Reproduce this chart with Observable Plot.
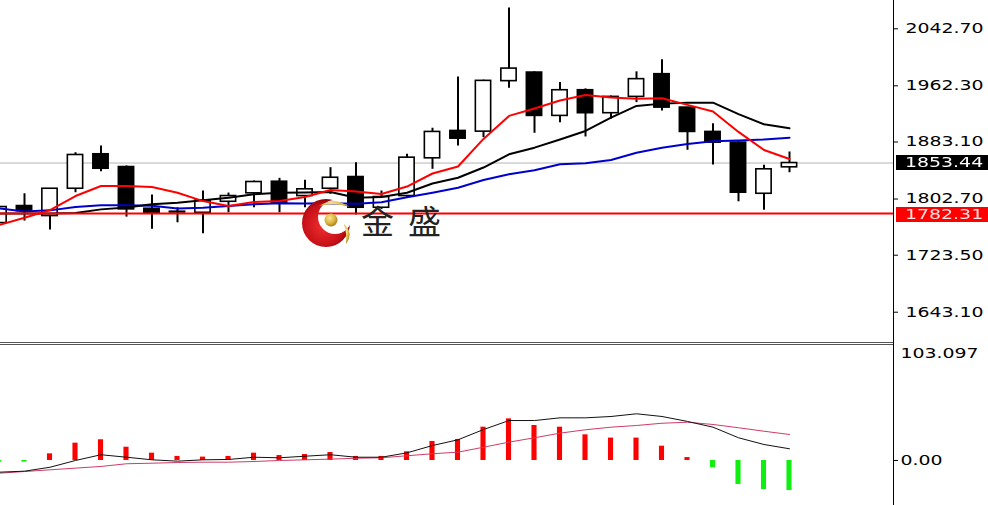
<!DOCTYPE html>
<html>
<head>
<meta charset="utf-8">
<script src="https://cdn.jsdelivr.net/npm/d3@7"></script>
<script src="https://cdn.jsdelivr.net/npm/@observablehq/plot@0.6"></script>
<style>
  html, body { margin: 0; padding: 0; background: #fff; }
  #wrap { position: relative; width: 988px; height: 505px; overflow: hidden; background: #fff; font-family: "DejaVu Sans", sans-serif; }
  #wrap svg { display: block; }
  .panel { position: absolute; left: 0; }
  .sep { position: absolute; left: 0; width: 893px; height: 1px; background: #555; }
  .tag { position: absolute; left: 896px; width: 92px; height: 15px; line-height: 15px; font-size: 13.5px; white-space: nowrap; overflow: hidden; }
  .tag span { display: inline-block; margin-left: 9px; transform: scaleX(1.4); transform-origin: left center; }
  #brand { position: absolute; left: 361px; top: 204px; font-family: "Noto Sans CJK SC", sans-serif; font-size: 33px; line-height: 33px; color: #222; letter-spacing: 14px; white-space: nowrap; }
  #logo { position: absolute; left: 300px; top: 195px; }
</style>
</head>
<body>
<div id="wrap"></div>
<script>
// ---- data ----
const bars = d3.range(32);
const open  = [1768.8, 1792.8, 1778.7, 1817.2, 1865.8, 1847.8, 1789.0, 1784.8, 1783.3, 1798.8, 1810.7, 1827.1, 1806.9, 1817.2, 1833.7, 1790.4, 1806.9, 1860.1, 1898.7, 1897.7, 1968.9, 1981.0, 1919.9, 1956.1, 1923.7, 1946.7, 1978.7, 1931.6, 1897.3, 1882.2, 1810.1, 1847.4];
const high  = [1792.8, 1810.1, 1817.5, 1868.0, 1877.5, 1849.3, 1808.3, 1790.4, 1814.0, 1811.1, 1828.1, 1831.9, 1829.1, 1846.9, 1853.9, 1814.0, 1865.8, 1902.5, 1974.9, 1970.3, 2071.9, 1982.0, 1966.9, 1958.0, 1948.1, 1982.0, 1998.9, 1931.6, 1909.0, 1883.1, 1850.2, 1869.0];
const low   = [1766.0, 1771.6, 1758.9, 1811.6, 1841.2, 1777.2, 1759.9, 1769.2, 1753.7, 1783.3, 1790.4, 1783.3, 1790.4, 1809.3, 1780.1, 1788.0, 1805.0, 1844.6, 1877.5, 1889.2, 1959.0, 1895.4, 1910.4, 1890.2, 1915.2, 1938.6, 1926.9, 1871.4, 1850.7, 1798.8, 1786.7, 1839.8];
const close = [1791.4, 1785.7, 1817.2, 1864.8, 1845.4, 1788.1, 1783.3, 1783.8, 1800.5, 1806.9, 1826.7, 1796.6, 1816.4, 1832.7, 1790.4, 1805.5, 1861.0, 1897.3, 1887.8, 1969.3, 1986.6, 1919.9, 1956.1, 1923.7, 1946.7, 1971.7, 1931.6, 1897.3, 1882.2, 1811.6, 1844.6, 1853.44];

const maRed   = [1765.9, 1776.3, 1787.1, 1806.9, 1821.0, 1821.0, 1819.6, 1811.6, 1799.8, 1792.8, 1798.4, 1799.8, 1805.5, 1815.4, 1813.2, 1809.7, 1820.3, 1838.7, 1848.5, 1887.4, 1919.9, 1930.4, 1941.5, 1949.5, 1945.7, 1943.9, 1944.8, 1935.4, 1926.2, 1897.3, 1871.8, 1859.1];
const maBlack = [1782.2, 1782.2, 1782.2, 1782.9, 1788.1, 1790.7, 1795.2, 1797.4, 1800.8, 1804.5, 1809.3, 1811.6, 1811.8, 1812.5, 1804.5, 1805.5, 1811.6, 1824.5, 1832.7, 1847.1, 1865.8, 1875.1, 1886.7, 1898.7, 1917.5, 1934.0, 1937.2, 1938.6, 1938.6, 1922.3, 1908.1, 1902.5];
const maBlue  = [1789.5, 1785.0, 1786.7, 1791.4, 1793.8, 1793.8, 1793.2, 1789.2, 1790.4, 1792.8, 1795.2, 1796.6, 1796.3, 1796.7, 1796.0, 1798.0, 1805.1, 1811.6, 1818.6, 1829.5, 1837.5, 1843.2, 1851.7, 1853.1, 1857.7, 1868.0, 1875.1, 1880.3, 1884.1, 1885.3, 1886.7, 1889.2];

const macdHist   = [-1.5, -1.5, 5.9, 15.4, 18.4, 11.8, 6.5, 3.6, 3.0, 3.6, 6.5, 4.4, 5.3, 7.1, 3.6, 3.6, 7.7, 16.9, 18.7, 29.6, 37.0, 31.1, 29.6, 22.8, 19.9, 19.9, 12.7, 2.6, -6.5, -21.3, -25.8, -26.7];
const macdLine   = [-10.4, -9.5, -6.0, 0.0, 5.1, 2.9, 0.6, -0.6, 0.6, 0.9, 2.9, 2.4, 3.8, 5.1, 2.9, 2.9, 6.8, 13.3, 18.4, 27.5, 35.5, 35.5, 37.9, 37.9, 39.1, 41.5, 39.1, 34.7, 29.6, 20.2, 14.2, 10.4];
const signalLine = [-11.3, -9.8, -8.3, -6.8, -5.3, -2.9, -2.4, -1.8, -1.5, -1.5, -0.9, 0.0, 0.6, 1.2, 2.0, 2.4, 4.2, 6.0, 7.4, 11.8, 16.3, 20.2, 24.3, 27.3, 29.6, 31.1, 33.1, 34.0, 32.0, 29.1, 26.0, 23.1];

const priceTicks = [2042.70, 1962.30, 1883.10, 1802.70, 1723.50, 1643.10];
const macdTicks = [0];
const bidPrice = 1853.44;
const levelPrice = 1782.31;
const panelMax = 103.097;
const brandText = "金盛";

// ---- helpers ----
function stretch(svg, k) {
  svg.querySelectorAll("text").forEach(t => {
    const x = t.getAttribute("x");
    let tr = t.getAttribute("transform") || "";
    if (x !== null && !isNaN(+x)) { tr += ` translate(${+x},0)`; t.removeAttribute("x"); }
    t.setAttribute("transform", tr + ` scale(${k},1)`);
  });
}

const wrap = document.getElementById("wrap");
const xOpts = {domain: [0, 31], range: [-1.5, 789], axis: null};
const style = {fontFamily: "DejaVu Sans", fontSize: "13.5px", color: "#000", background: "transparent", overflow: "visible"};

// ---- main price panel ----
const up = bars.filter(i => close[i] >= open[i]);
const down = bars.filter(i => close[i] < open[i]);

const main = Plot.plot({
  width: 988, height: 343,
  marginLeft: 0, marginRight: 95, marginTop: 0, marginBottom: 1,
  style,
  x: xOpts,
  y: {domain: [1600.4, 2082.6], range: [342, 0], axis: "right", ticks: priceTicks,
      tickFormat: d => d.toFixed(2), tickSize: 4, tickPadding: 8, line: true, label: null},
  marks: [
    Plot.ruleY([bidPrice], {stroke: "#b4b4b4", strokeWidth: 1}),
    Plot.ruleX(bars, {x: i => i, y1: i => low[i], y2: i => high[i], stroke: "#000", strokeWidth: 2}),
    Plot.rect(up, {x1: i => i - 0.3, x2: i => i + 0.3, y1: i => open[i], y2: i => close[i], fill: "#fff", stroke: "#000", strokeWidth: 1.6}),
    Plot.rect(down, {x1: i => i - 0.3, x2: i => i + 0.3, y1: i => open[i], y2: i => close[i], fill: "#000", stroke: "#000", strokeWidth: 1.6}),
    Plot.line(bars, {x: i => i, y: i => maBlue[i], stroke: "#0000cd", strokeWidth: 2}),
    Plot.line(bars, {x: i => i, y: i => maBlack[i], stroke: "#000", strokeWidth: 2}),
    Plot.line(bars, {x: i => i, y: i => maRed[i], stroke: "#ff0000", strokeWidth: 2}),
    Plot.ruleY([levelPrice], {stroke: "#ff0000", strokeWidth: 2})
  ]
});
main.classList.add("panel");
main.style.top = "0px";
stretch(main, 1.4);
wrap.appendChild(main);

// ---- MACD panel ----
const pos = bars.filter(i => macdHist[i] >= 0);
const neg = bars.filter(i => macdHist[i] < 0);
const lower = Plot.plot({
  width: 988, height: 162,
  marginLeft: 0, marginRight: 95, marginTop: 0, marginBottom: 0,
  style,
  x: xOpts,
  y: {domain: [-40, 103.96], range: [162, 0], axis: "right", ticks: macdTicks,
      tickFormat: d => d.toFixed(2), tickSize: 4, tickPadding: 3, line: true, label: null},
  marks: [
    Plot.rect(pos, {x1: i => i - 0.1, x2: i => i + 0.1, y1: 0, y2: i => macdHist[i], fill: "#ff0000"}),
    Plot.rect(neg, {x1: i => i - 0.1, x2: i => i + 0.1, y1: 0, y2: i => macdHist[i], fill: "#11ee11"}),
    Plot.line(bars, {x: i => i, y: i => signalLine[i], stroke: "#d03c64", strokeWidth: 1}),
    Plot.line(bars, {x: i => i, y: i => macdLine[i], stroke: "#111", strokeWidth: 1}),
    Plot.text([panelMax], {y: d => d, text: d => d.toFixed(3), frameAnchor: "right", dx: 7, dy: 9, textAnchor: "start", fill: "#000"})
  ]
});
lower.classList.add("panel");
lower.style.top = "343px";
stretch(lower, 1.4);
wrap.appendChild(lower);

// ---- panel separators ----
[342, 344].forEach(t => {
  const s = document.createElement("div");
  s.className = "sep"; s.style.top = t + "px";
  wrap.appendChild(s);
});

// ---- watermark ----
const logo = document.createElementNS("http://www.w3.org/2000/svg", "svg");
logo.setAttribute("id", "logo");
logo.setAttribute("width", "56"); logo.setAttribute("height", "56");
logo.innerHTML = `
  <defs>
    <radialGradient id="rg" cx="0.45" cy="0.55" r="0.6">
      <stop offset="0" stop-color="#f03030"/><stop offset="0.7" stop-color="#c81018"/><stop offset="1" stop-color="#7a0008"/>
    </radialGradient>
    <radialGradient id="gg" cx="0.4" cy="0.35" r="0.7">
      <stop offset="0" stop-color="#fbe88a"/><stop offset="0.6" stop-color="#d8b040"/><stop offset="1" stop-color="#9a7410"/>
    </radialGradient>
    <mask id="cm"><rect width="56" height="56" fill="#fff"/><circle cx="35" cy="22" r="17" fill="#000"/></mask>
  </defs>
  <circle cx="26" cy="28" r="24" fill="url(#rg)" mask="url(#cm)"/>
  <path d="M19,11 Q34,1 50,12 Q35,7 19,11 Z" fill="url(#gg)"/>
  <path d="M44,29 Q54,38 46,49 Q47,39 44,29 Z" fill="url(#gg)"/>
  <circle cx="31" cy="25" r="6.5" fill="url(#gg)"/>`;
wrap.appendChild(logo);

const brand = document.createElement("div");
brand.id = "brand";
brand.textContent = brandText;
wrap.appendChild(brand);

// ---- price tags on the axis ----
const yMain = main.scale("y");
function tag(value, bg, fg, offset) {
  const d = document.createElement("div");
  d.className = "tag";
  d.style.top = (yMain.apply(value) - 7.5 + offset) + "px";
  d.style.background = bg;
  d.style.color = fg;
  const s = document.createElement("span");
  s.textContent = value.toFixed(2);
  d.appendChild(s);
  wrap.appendChild(d);
}
tag(bidPrice, "#000", "#fff", 0);
tag(levelPrice, "#ff0000", "#ffe0e0", 2);
</script>
</body>
</html>
